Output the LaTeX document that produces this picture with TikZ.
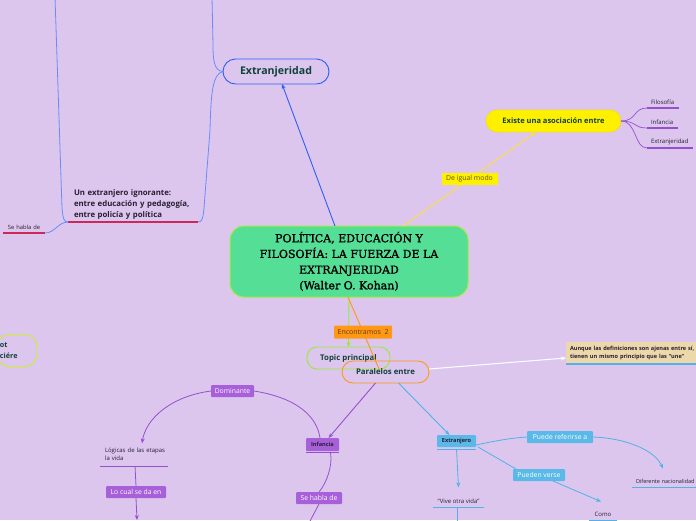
\documentclass[tikz,border=0pt]{standalone}
\usepackage{fontspec}
\setmainfont{Open Sans}
\newfontfamily\titlefont[FakeBold=1.3]{DejaVu Serif}
\usetikzlibrary{arrows.meta}
\definecolor{bgc}{RGB}{220,198,238}
\definecolor{cg}{RGB}{85,222,150}
\definecolor{cgb}{RGB}{165,235,60}
\definecolor{blueA}{RGB}{45,95,245}
\definecolor{blueB}{RGB}{105,140,250}
\definecolor{tealtxt}{RGB}{16,64,58}
\definecolor{redul}{RGB}{205,40,90}
\definecolor{yel}{RGB}{255,240,0}
\definecolor{yelb}{RGB}{240,222,40}
\definecolor{yell}{RGB}{255,222,60}
\definecolor{olivetxt}{RGB}{95,85,30}
\definecolor{orng}{RGB}{255,152,20}
\definecolor{browntxt}{RGB}{110,55,10}
\definecolor{tgreen}{RGB}{150,235,50}
\definecolor{purp}{RGB}{150,80,205}
\definecolor{purpf}{RGB}{168,95,218}
\definecolor{sky}{RGB}{80,178,230}
\definecolor{skyf}{RGB}{90,185,232}
\definecolor{tanc}{RGB}{236,216,170}
\definecolor{limec}{RGB}{205,238,40}
\definecolor{darktxt}{RGB}{40,30,50}
\begin{document}
\begin{tikzpicture}[x=1pt,y=-1pt,
  every node/.style={inner sep=0pt, outer sep=0pt},
  tip/.style={-{Stealth[length=5pt,width=4pt]}},
  topicbox/.style={draw, line width=0.9pt, text=tealtxt, font=\bfseries\fontsize{7.8}{9}\selectfont},
  lblbox/.style={rounded corners=1pt, minimum height=12pt, font=\fontsize{6.8}{7}\selectfont, text=white},
  smalltxt/.style={font=\fontsize{6}{8}\selectfont, text=darktxt},
  conn/.style={line width=0.9pt},
]
\useasboundingbox (0,0) rectangle (696,520);
\clip (0,0) rectangle (696,520);
\fill[bgc] (0,0) rectangle (696,520);

% ---------- nodes ----------
\node[draw=cgb, fill=cg, line width=1pt, rounded corners=14pt, minimum width=238pt, minimum height=71pt,
      align=center, text=black, font=\titlefont\fontsize{11}{15.7}\selectfont] (central) at (349,261.5)
  {POLÍTICA, EDUCACIÓN Y\\FILOSOFÍA: LA FUERZA DE LA\\EXTRANJERIDAD\\(Walter O. Kohan)};

\node[topicbox, draw=blueA, rounded corners=12.5pt, minimum width=106pt, minimum height=25pt,
      font=\bfseries\fontsize{10.6}{12}\selectfont] (extr) at (276,71.5) {Extranjeridad};

\node[topicbox, draw=yelb, fill=yel, rounded corners=11pt, minimum width=135pt, minimum height=22pt,
      font=\bfseries\fontsize{7.5}{8}\selectfont] (existe) at (553.5,121) {Existe una asociación entre};

\node[topicbox, draw=tgreen, rounded corners=10pt, minimum width=83pt, minimum height=22pt] (topic) at (348.5,358) {Topic principal};
\node[topicbox, draw=orng, rounded corners=11pt, minimum width=87pt, minimum height=22pt] (paral) at (385.5,372) {Paralelos entre};

\node[topicbox, draw=limec, rounded corners=12pt, minimum height=32pt, text width=40pt, align=left,
      anchor=east, font=\bfseries\fontsize{7.2}{11}\selectfont] (rbox) at (37,350.5)
  {\hspace*{3pt}ot\\\hspace*{3pt}ciére};

\node[anchor=south west, text width=124pt, inner xsep=6pt, inner ysep=3pt, align=left,
      font=\bfseries\fontsize{7.8}{11}\selectfont, text=darktxt] (unext) at (68,222)
  {Un extranjero ignorante:\\entre educación y pedagogía,\\entre policía y política};
\node[smalltxt, anchor=south west, text width=40pt, inner xsep=5pt, inner ysep=3pt, align=left,
      font=\fontsize{5.8}{7}\selectfont] (sehabla1) at (3,233) {Se habla de};

\node[smalltxt, anchor=south west, text width=24pt, inner xsep=4pt, inner ysep=3pt, align=left] (fil) at (647,108) {Filosofía};
\node[smalltxt, anchor=south west, text width=23pt, inner xsep=4pt, inner ysep=3pt, align=left] (inf2) at (647,128) {Infancia};
\node[smalltxt, anchor=south west, text width=38pt, inner xsep=4pt, inner ysep=3pt, align=left] (ext2) at (647,148) {Extranjeridad};

\node[fill=tanc, anchor=west, minimum height=22pt, text width=150pt, inner xsep=4pt, align=left,
      font=\bfseries\fontsize{5.6}{8}\selectfont, text=darktxt] (aunque) at (566,353)
  {Aunque las definiciones son ajenas entre sí,\\tienen un mismo principio que las “une”};

\node[fill=purpf, rounded corners=1pt, minimum width=33pt, minimum height=13pt,
      font=\bfseries\fontsize{5.6}{6}\selectfont, text=darktxt] (infan) at (322.5,444.5) {Infancia};
\node[lblbox, fill=purpf, minimum width=43pt] (dom) at (232.5,391) {Dominante};
\node[smalltxt, anchor=south west, text width=62pt, inner xsep=5pt, inner ysep=5pt, align=left] (logic) at (100,466) {Lógicas de las etapas\\la vida};
\node[lblbox, fill=purpf, minimum width=60pt] (locual) at (136,492) {Lo cual se da en};
\node[lblbox, fill=purpf, minimum width=46pt] (sehabla2) at (319,498) {Se habla de};

\node[fill=skyf, rounded corners=1pt, minimum width=39pt, minimum height=12pt,
      font=\bfseries\fontsize{5.6}{6}\selectfont, text=darktxt] (extro) at (456.5,441) {Extranjero};
\node[lblbox, fill=skyf, minimum width=66pt] (pref) at (560,437) {Puede referirse a};
\node[lblbox, fill=skyf, minimum width=52pt] (pver) at (539,475) {Pueden verse};
\node[smalltxt, anchor=south west, inner xsep=3pt, inner ysep=3pt, minimum width=68pt, align=left, text width=60pt,
      font=\fontsize{5.5}{7}\selectfont] (difnac) at (632,487) {Diferente nacionalidad};
\node[smalltxt, anchor=south, minimum width=28pt, inner ysep=3pt] (como) at (603,520) {Como};
\node[smalltxt, anchor=south, minimum width=51pt, inner ysep=3pt] (vive) at (458.5,507) {“Vive otra vida”};

\coordinate (topA) at (212,-3);
\coordinate (topB) at (55,-3);
\coordinate (logend) at (137,520);
\coordinate (infend) at (309,523);
\coordinate (viveend) at (457,523);
\coordinate (difend) at (700,487);

% ---------- underlines ----------
\draw[redul, line width=1.3pt] (unext.south west) -- ([xshift=-6pt]unext.south east);
\draw[redul, line width=1.3pt] (sehabla1.south west) -- ([xshift=-8pt]sehabla1.south east);
\draw[purp, line width=1.2pt] (fil.south west) -- (fil.south east);
\draw[purp, line width=1.2pt] (inf2.south west) -- (inf2.south east);
\draw[purp, line width=1.2pt] (ext2.south west) -- (ext2.south east);
\draw[sky, line width=1.6pt] (aunque.south west) -- (aunque.south east);
\draw[purp, line width=1pt] ([yshift=-1.5pt]infan.south west) -- ([yshift=-1.5pt]infan.south east);
\draw[purp, line width=1pt] (logic.south west) -- ([xshift=-4pt]logic.south east);
\draw[sky, line width=1pt] ([yshift=-2pt]extro.south west) -- ([yshift=-2pt]extro.south east);
\draw[sky, line width=1pt] (difnac.south west) -- (difend);
\draw[sky, line width=1pt] (como.south west) -- (como.south east);
\draw[sky, line width=1pt] (vive.south west) -- (vive.south east);

% ---------- connectors ----------
\draw[blueA, conn, tip] ([xshift=-14pt]central.north) -- ([xshift=6pt]extr.south);
\draw[blueB, line width=0.8pt] (extr.west) .. controls (214,71) and (213,60) .. (213,45) -- (topA);
\draw[blueB, line width=0.8pt] (extr.west) .. controls (213,74) and (211,90) .. (210,130) -- (204,208)
   .. controls (203,219) and (202,222) .. ([xshift=-6pt]unext.south east);
\draw[blueB, line width=0.8pt] (topB) -- (62,208) .. controls (63,219) and (64,222) .. (unext.south west);
\draw[blueB, line width=0.8pt] (unext.south west) .. controls (58,222) and (55,233) .. ([xshift=-8pt]sehabla1.south east);

\draw[yell, conn, tip] ([xshift=54pt]central.north) --
   node[fill=yel, minimum width=56pt, minimum height=12pt, font=\fontsize{6.9}{7}\selectfont, text=olivetxt] (igual) {De igual modo}
   ([xshift=-17.5pt]existe.south);

\draw[purp, line width=0.7pt] (existe.east) .. controls (637,121) and (633,108) .. (fil.south west);
\draw[purp, line width=0.7pt] (existe.east) .. controls (637,121) and (633,128) .. (inf2.south west);
\draw[purp, line width=0.7pt] (existe.east) .. controls (637,121) and (634,148) .. (ext2.south west);

\draw[tgreen, conn, tip] (central.south) -- (topic.north);
\draw[orng, conn] ([xshift=-1pt]central.south) --
   node[pos=0.48, fill=orng, rounded corners=1pt, minimum width=58pt, minimum height=13pt, font=\fontsize{7}{7}\selectfont, text=browntxt] (enc) {Encontramos~~2}
   ([xshift=-6pt,yshift=2pt]paral.center);

\draw[white, line width=1pt, tip] ([yshift=3pt]paral.east) -- ([yshift=-5pt]aunque.west);

\draw[purp, conn, tip] ([xshift=-10pt]paral.south) -- ([xshift=6pt]infan.north);
\draw[purp, line width=0.8pt] ([xshift=-2.5pt]infan.north) .. controls (317,417) and (298,398) .. (dom.east);
\draw[purp, line width=0.8pt, tip] (dom.west) .. controls (172,396) and (146,418) .. ([xshift=6pt]logic.north);
\draw[purp, line width=0.8pt] ([xshift=-1pt]logic.south) -- (locual.north);
\draw[purp, line width=0.8pt, tip] (locual.south) -- (logend);
\draw[purp, line width=0.8pt] ([xshift=8pt,yshift=-1.5pt]infan.south) .. controls (333,466) and (326,484) .. (sehabla2.north);
\draw[purp, line width=0.8pt] (sehabla2.south) -- (infend);

\draw[sky, conn, tip] ([xshift=13pt]paral.south) -- ([xshift=-7pt]extro.north);
\draw[sky, line width=0.8pt] ([yshift=-4pt]extro.east) .. controls (495,441) and (510,438) .. (pref.west);
\draw[sky, line width=0.8pt, tip] (pref.east) .. controls (625,438) and (655,450) .. ([xshift=31pt,yshift=8pt]difnac.north west);
\draw[sky, line width=0.8pt] ([xshift=2pt,yshift=-6pt]extro.east) -- ([xshift=3pt]pver.north west);
\draw[sky, line width=0.8pt, tip] ([xshift=-12pt]pver.south east) -- ([xshift=-2pt,yshift=8pt]como.north);
\draw[sky, line width=0.8pt, tip] ([yshift=-2pt]extro.south) -- ([yshift=9pt]vive.north);
\draw[sky, line width=0.8pt] ([xshift=-1.5pt]vive.south) -- (viveend);
\end{tikzpicture}
\end{document}
